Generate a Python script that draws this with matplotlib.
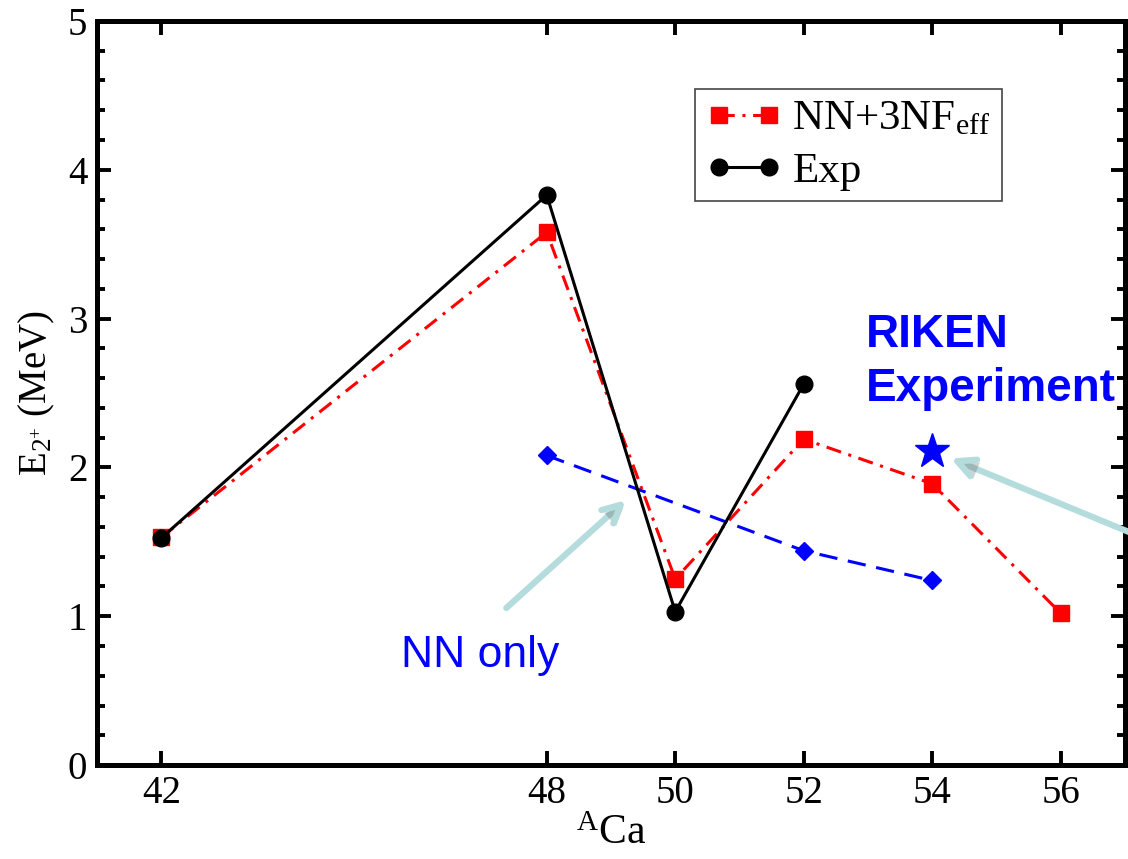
import numpy as np
import matplotlib.pyplot as plt
from matplotlib.ticker import MultipleLocator, FixedLocator
import matplotlib.patheffects as pe

plt.rcParams['font.family'] = ['Liberation Serif', 'DejaVu Serif']
plt.rcParams['mathtext.fontset'] = 'custom'
plt.rcParams['mathtext.rm'] = 'Liberation Serif'
plt.rcParams['mathtext.it'] = 'Liberation Serif:italic'

# E(2+) energies of calcium isotopes
a_exp = [42, 48, 50, 52]
e_exp = [1.525, 3.83, 1.03, 2.56]

a_3nf = [42, 48, 50, 52, 54, 56]
e_3nf = [1.53, 3.58, 1.25, 2.19, 1.89, 1.02]

a_nn = [48, 52, 54]
e_nn = [2.08, 1.44, 1.24]

a_riken = [54]
e_riken = [2.11]

x_ticks = [42, 48, 50, 52, 54, 56]

fig = plt.figure(figsize=(11.28, 8.59), dpi=100)
ax = fig.add_axes([0.086, 0.1094, 0.9113, 0.8662])

ax.plot(a_3nf, e_3nf, color='red', lw=2.2, linestyle=(0, (5, 2.5, 1, 2.5)),
        marker='s', markersize=11, label=r'NN+3NF$_{\mathrm{eff}}$', zorder=3)
ax.plot(a_exp, e_exp, color='black', lw=2.2, marker='o', markersize=12,
        label='Exp', zorder=4)
ax.plot(a_nn, e_nn, color='blue', lw=2.2, linestyle=(0, (6, 3.5)),
        marker='D', markersize=9, zorder=3)
ax.plot(a_riken, e_riken, linestyle='none', marker='*', markersize=26,
        color='blue', zorder=5)

ax.set_xlim(41, 57)
ax.set_ylim(0, 5)
ax.xaxis.set_major_locator(FixedLocator(x_ticks))
ax.yaxis.set_major_locator(MultipleLocator(1))
ax.yaxis.set_minor_locator(MultipleLocator(0.2))
ax.tick_params(which='both', direction='in', top=True, right=True,
               labelsize=28, width=2.8)
ax.tick_params(which='major', length=10, pad=7)
ax.tick_params(which='minor', length=6)
for s in ax.spines.values():
    s.set_linewidth(3.6)

ax.set_xlabel(r'$^{\mathrm{A}}$Ca', fontsize=30, labelpad=2)
ax.set_ylabel(r'E$_{\mathrm{2}^{+}}$ (MeV)', fontsize=28, labelpad=8)

leg = ax.legend(loc='upper right', bbox_to_anchor=(0.880, 0.909),
                borderaxespad=0, numpoints=2, fontsize=31, fancybox=False,
                handlelength=1.75, handletextpad=0.25, borderpad=0.25,
                labelspacing=0.3, framealpha=1)
leg.get_frame().set_edgecolor('#444444')
leg.get_frame().set_linewidth(1.2)

# annotations
ax.text(45.73, 0.66, 'NN only', color='blue', fontsize=32,
        family='Liberation Sans', va='baseline', ha='left')
ax.text(52.96, 3.04, 'RIKEN\nExperiment', color='blue', fontsize=33,
        family='Liberation Sans', fontweight='bold', va='top', ha='left',
        linespacing=1.3, clip_on=False)

arrow_props = dict(arrowstyle='->', color='#b5dcdc', lw=4.5,
                   mutation_scale=32, shrinkA=0, shrinkB=0,
                   path_effects=[pe.SimplePatchShadow(offset=(2, -2), alpha=0.25),
                                 pe.Normal()])
ax.annotate('', xy=(49.23, 1.78), xytext=(47.37, 1.055),
            arrowprops=arrow_props)
ax.annotate('', xy=(54.29, 2.06), xytext=(57.6, 1.47),
            arrowprops=arrow_props, annotation_clip=False)

fig.savefig('out.png', dpi=100)
